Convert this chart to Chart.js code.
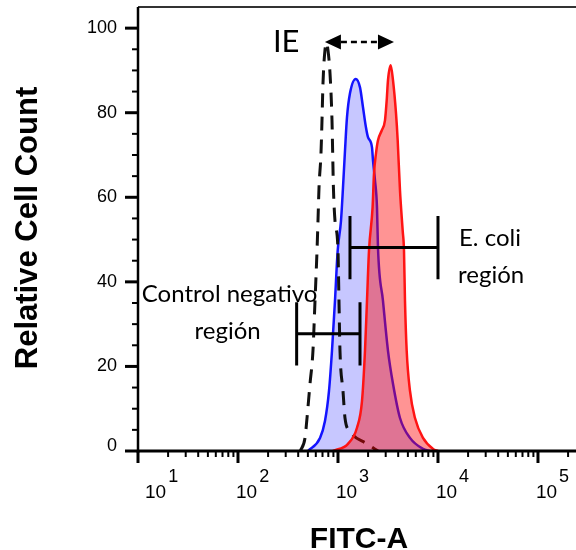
<!DOCTYPE html>
<html>
<head>
<meta charset="utf-8">
<script src="https://cdn.jsdelivr.net/npm/chart.js@4.4.1/dist/chart.umd.min.js"></script>
<style>
  html, body { margin: 0; padding: 0; background: #fff; }
  canvas { display: block; }
</style>
</head>
<body>
<canvas id="histChart" width="576" height="550"></canvas>
<script>
// unstained cells (dashed outline)
const blankFitc  = [420, 468, 490, 525, 562, 589, 617, 631, 646, 676, 692, 708, 741, 770, 794, 832, 871, 885, 900, 933, 1000, 1023, 1047, 1122, 1175, 1318, 1950, 2512];
const blankCount = [0, 3.1, 7.8, 15.9, 23.7, 35.5, 47.4, 54.5, 62.3, 70.4, 78.2, 87.0, 94.8, 96.5, 94.8, 89.3, 78.2, 70.4, 62.3, 54.5, 47.4, 35.5, 23.7, 14.2, 7.8, 4.7, 1.7, 0];

// negative control (blue)
const ctrlFitc  = [500, 661, 741, 813, 871, 933, 993, 1072, 1122, 1175, 1230, 1318, 1503, 1660, 1778, 1905, 1995, 2188, 2239, 2344, 2455, 2512, 2818, 3162, 3548, 4169, 5248, 7079, 8318];
const ctrlCount = [0, 3.1, 7.1, 14.2, 23.7, 35.5, 47.4, 54.5, 62.3, 71.0, 78.9, 84.6, 88.0, 86.0, 81.3, 76.5, 74.2, 71.8, 68.7, 64.0, 57.6, 48.0, 35.5, 23.7, 15.9, 7.8, 3.1, 0.5, 0];

// E. coli (red)
const ecoliFitc  = [891, 1259, 1549, 1738, 1862, 1950, 2042, 2218, 2291, 2399, 2512, 2738, 2951, 3069, 3162, 3365, 3548, 3802, 3953, 4169, 4436, 4571, 4677, 4864, 5248, 5888, 7079, 8913, 10000];
const ecoliCount = [0, 1.7, 5.5, 11.8, 23.7, 35.5, 47.4, 57.6, 65.6, 70.4, 73.5, 75.8, 78.2, 82.9, 87.7, 91.2, 87.7, 79.9, 73.5, 61.6, 52.1, 47.4, 35.5, 23.7, 14.2, 7.8, 3.1, 0.5, 0];

// gates: [from, to] on FITC-A, level on the count axis
const ctrlGate = [386, 1660];
const ctrlGateLevel = 27.7;
const ecoliGate = [1318, 10000];
const ecoliGateLevel = 48.1;
const gateHalf = 7.5;

// IE arrow between the two peaks
const ieArrow = [740, 3630];
const ieArrowLevel = 96.7;

const yTicks = [0, 20, 40, 60, 80, 100];
const xDecades = [1, 2, 3, 4, 5];

function pts(xs, ys) {
  return xs.map((x, i) => ({ x: x, y: ys[i] }));
}

const axisFont = '"Liberation Sans", Arial, sans-serif';
const noteFont = 'Lato, "Open Sans", sans-serif';

const decorations = {
  id: 'decorations',
  afterDatasetsDraw(chart) {
    const ctx = chart.ctx;
    const { left, right, top, bottom } = chart.chartArea;
    const xs = chart.scales.x;
    const ys = chart.scales.y;
    ctx.save();
    ctx.strokeStyle = '#000';
    ctx.fillStyle = '#000';
    ctx.lineCap = 'butt';

    // frame: top border and left axis
    ctx.lineWidth = 2;
    ctx.strokeStyle = '#333';
    ctx.beginPath();
    ctx.moveTo(left, top);
    ctx.lineTo(right, top);
    ctx.stroke();
    ctx.strokeStyle = '#000';
    ctx.lineWidth = 2.5;
    ctx.beginPath();
    ctx.moveTo(left, top);
    ctx.lineTo(left, bottom + 2);
    ctx.stroke();

    // y ticks
    for (let v = 0; v <= 100; v += 5) {
      const py = ys.getPixelForValue(v);
      const major = v % 20 === 0;
      ctx.lineWidth = major ? 3 : 2;
      ctx.beginPath();
      ctx.moveTo(left - (major ? 13 : 6), py);
      ctx.lineTo(left, py);
      ctx.stroke();
    }
    ctx.font = '18px ' + axisFont;
    ctx.textAlign = 'right';
    ctx.textBaseline = 'middle';
    yTicks.forEach(v => {
      ctx.fillText(String(v), left - 21, ys.getPixelForValue(v) - (v === 0 ? 5 : 0));
    });

    // x axis and log ticks
    ctx.lineWidth = 3;
    ctx.beginPath();
    ctx.moveTo(left - 1, bottom);
    ctx.lineTo(right, bottom);
    ctx.stroke();
    xDecades.forEach(d => {
      for (let m = 1; m <= 9; m++) {
        const v = m * Math.pow(10, d);
        if (v > xs.max) break;
        const px = xs.getPixelForValue(v);
        const major = m === 1;
        ctx.lineWidth = major ? 3 : 2;
        ctx.beginPath();
        ctx.moveTo(px, bottom);
        ctx.lineTo(px, bottom + (major ? 12 : 6));
        ctx.stroke();
      }
    });
    ctx.textAlign = 'left';
    ctx.textBaseline = 'alphabetic';
    xDecades.forEach(d => {
      const px = Math.max(xs.getPixelForValue(Math.pow(10, d)) - 2, left + 7);
      ctx.font = '19px ' + axisFont;
      ctx.fillText('10', px, bottom + 47);
      const w = ctx.measureText('10').width;
      ctx.font = '18px ' + axisFont;
      ctx.fillText(String(d), px + w + 2, bottom + 31);
    });

    // axis titles
    ctx.font = 'bold 30px ' + axisFont;
    ctx.textAlign = 'center';
    ctx.fillText('FITC-A', 359, 548);
    ctx.save();
    ctx.translate(37, 228);
    ctx.rotate(-Math.PI / 2);
    ctx.font = 'bold 31px ' + axisFont;
    ctx.fillText('Relative Cell Count', 0, 0);
    ctx.restore();

    // gate brackets
    function gate(range, level) {
      const x1 = xs.getPixelForValue(range[0]);
      const x2 = xs.getPixelForValue(range[1]);
      const yc = ys.getPixelForValue(level);
      const y1 = ys.getPixelForValue(level + gateHalf);
      const y2 = ys.getPixelForValue(level - gateHalf);
      ctx.lineWidth = 3;
      ctx.beginPath();
      ctx.moveTo(x1, y1); ctx.lineTo(x1, y2);
      ctx.moveTo(x2, y1); ctx.lineTo(x2, y2);
      ctx.moveTo(x1, yc); ctx.lineTo(x2, yc);
      ctx.stroke();
      return { x1, x2, yc };
    }
    const cg = gate(ctrlGate, ctrlGateLevel);
    const eg = gate(ecoliGate, ecoliGateLevel);

    ctx.font = '24px ' + noteFont;
    ctx.textBaseline = 'middle';
    ctx.textAlign = 'center';
    ctx.fillText('Control negativo', cg.x1 - 67, cg.yc - 40);
    ctx.fillText('región', cg.x1 - 69, cg.yc - 3);
    ctx.textAlign = 'left';
    ctx.fillText('E. coli', eg.x2 + 21, eg.yc - 9);
    ctx.fillText('región', eg.x2 + 20, eg.yc + 28);

    // IE double arrow
    const ax1 = xs.getPixelForValue(ieArrow[0]);
    const ax2 = xs.getPixelForValue(ieArrow[1]);
    const ay = ys.getPixelForValue(ieArrowLevel);
    const head = 16;
    ctx.lineWidth = 2.5;
    ctx.setLineDash([6, 4]);
    ctx.beginPath();
    ctx.moveTo(ax1 + head, ay);
    ctx.lineTo(ax2 - head, ay);
    ctx.stroke();
    ctx.setLineDash([]);
    ctx.beginPath();
    ctx.moveTo(ax1, ay); ctx.lineTo(ax1 + head, ay - 7.5); ctx.lineTo(ax1 + head, ay + 7.5);
    ctx.closePath();
    ctx.moveTo(ax2, ay); ctx.lineTo(ax2 - head, ay - 7.5); ctx.lineTo(ax2 - head, ay + 7.5);
    ctx.closePath();
    ctx.fill();
    ctx.font = '31px ' + noteFont;
    ctx.textAlign = 'left';
    ctx.fillText('IE', ax1 - 52, ay);

    ctx.restore();
  }
};

new Chart(document.getElementById('histChart'), {
  type: 'line',
  data: {
    datasets: [
      {
        label: 'E. coli',
        data: pts(ecoliFitc, ecoliCount),
        borderColor: '#ff1414',
        backgroundColor: 'rgba(255, 0, 0, 0.42)',
        borderWidth: 2.5,
        fill: 'origin',
        order: 0
      },
      {
        label: 'Sin teñir',
        data: pts(blankFitc, blankCount),
        borderColor: '#111',
        borderWidth: 3,
        borderDash: [14, 9],
        fill: false,
        order: 1
      },
      {
        label: 'Control negativo',
        data: pts(ctrlFitc, ctrlCount),
        borderColor: '#1414ff',
        backgroundColor: 'rgba(0, 0, 255, 0.22)',
        borderWidth: 2.5,
        fill: 'origin',
        order: 2
      }
    ]
  },
  options: {
    responsive: false,
    animation: false,
    events: [],
    layout: { padding: { left: 138, top: 7, right: 0, bottom: 99 } },
    elements: {
      point: { radius: 0 },
      line: { cubicInterpolationMode: 'monotone' }
    },
    plugins: {
      legend: { display: false },
      tooltip: { enabled: false }
    },
    scales: {
      x: { type: 'logarithmic', min: 10, max: 240000, display: false },
      y: { min: 0, max: 105, display: false }
    }
  },
  plugins: [decorations]
});
</script>
</body>
</html>
